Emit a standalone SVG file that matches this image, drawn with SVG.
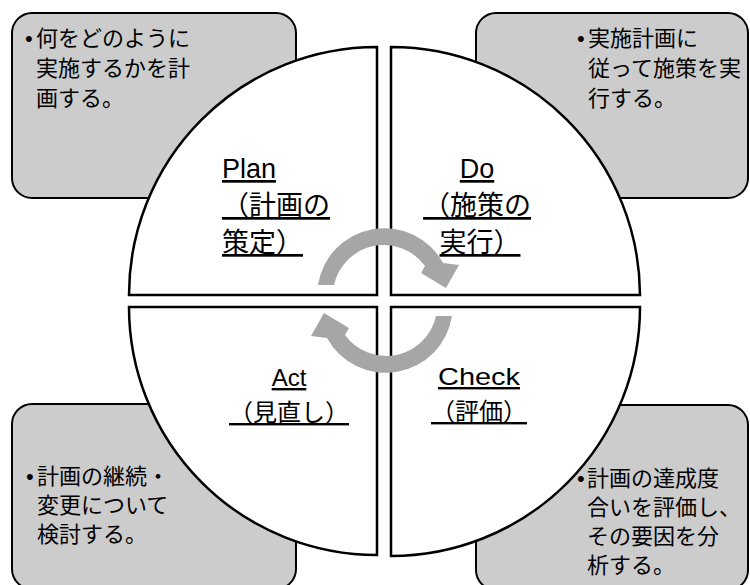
<svg xmlns="http://www.w3.org/2000/svg" width="750" height="585" viewBox="0 0 750 585">
<style>
.box{fill:#cccccc;stroke:#000;stroke-width:2}
.q{fill:#fff;stroke:#000;stroke-width:2.5}
.arr{fill:#a6a6a6;stroke:none}
text{font-family:"Liberation Sans","Noto Sans CJK JP",sans-serif;fill:#000}
.bt{font-size:22px}
.lt{font-size:27px;text-decoration:underline}
.lb{font-size:24px;text-decoration:underline}
</style>
<rect width="750" height="585" fill="#fff"/>
<g id="box-plan">
<rect class="box" x="12" y="13" width="284" height="185" rx="20"/>
<text class="bt"><tspan x="25" y="46">•</tspan><tspan x="36" y="46">何をどのように</tspan><tspan x="36" y="76">実施するかを計</tspan><tspan x="36" y="106">画する。</tspan></text>
</g>
<g id="box-do">
<rect class="box" x="476" y="13" width="272" height="185" rx="20"/>
<text class="bt"><tspan x="577" y="46">•</tspan><tspan x="588" y="46">実施計画に</tspan><tspan x="588" y="76">従って施策を実</tspan><tspan x="588" y="106">行する。</tspan></text>
</g>
<g id="box-act">
<rect class="box" x="12" y="404" width="284" height="185" rx="20"/>
</g>
<g id="box-check">
<rect class="box" x="476" y="405" width="272" height="185" rx="20"/>
</g>
<g id="plan">
<path class="q" d="M377 295 L129 295 A248 248 0 0 1 377 47 Z"/>
<text class="lt"><tspan x="222" y="178">Plan</tspan><tspan x="222" y="215">（計画の</tspan><tspan x="222" y="252">策定）</tspan></text>
</g>
<g id="do">
<path class="q" d="M391 295 L391 47 A249 249 0 0 1 640 295 Z"/>
<text class="lt" text-anchor="middle"><tspan x="477" y="178">Do</tspan><tspan x="477" y="215">（施策の</tspan><tspan x="480" y="252">実行）</tspan></text>
</g>
<g id="act">
<path class="q" d="M377 307 L377 555 A248 248 0 0 1 129 307 Z"/>
<text class="lb" text-anchor="middle"><tspan x="289" y="386">Act</tspan><tspan x="289" y="421">（見直し）</tspan></text>
</g>
<g id="check">
<path class="q" d="M391 307 L640 307 A249 249 0 0 1 391 556 Z"/>
<text class="lb" text-anchor="middle"><tspan x="479" y="385" textLength="82" lengthAdjust="spacingAndGlyphs">Check</tspan><tspan x="479" y="420">（評価）</tspan></text>
</g>
<g id="box-act-text">
<text class="bt"><tspan x="26" y="484">•</tspan><tspan x="37" y="484">計画の継続・</tspan><tspan x="37" y="513">変更について</tspan><tspan x="37" y="542">検討する。</tspan></text>
</g>
<g id="box-check-text">
<text class="bt"><tspan x="577" y="486">•</tspan><tspan x="587" y="486">計画の達成度</tspan><tspan x="587" y="515">合いを評価し、</tspan><tspan x="587" y="544">その要因を分</tspan><tspan x="587" y="573">析する。</tspan></text>
</g>
<g id="connectors">
<path class="arr" d="M318 285 A67 67 0 0 1 443 263 L459 265 L446 288 L421 273 L425 266 A51 51 0 0 0 334 285 Z"/>
<path class="arr" d="M452 316 A67 67 0 0 1 327 338 L311 336 L324 313 L349 328 L345 335 A51 51 0 0 0 436 316 Z"/>
</g>
</svg>
